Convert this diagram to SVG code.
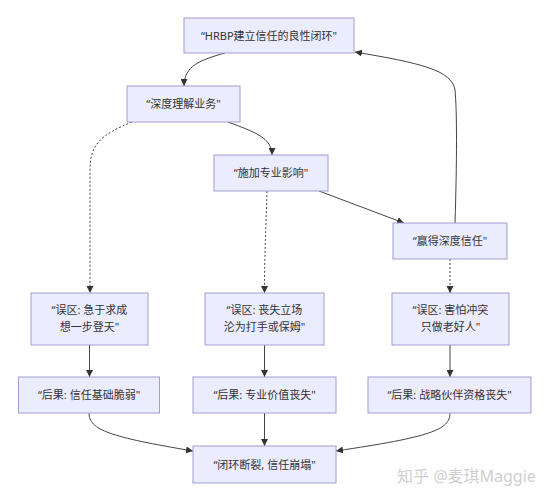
<svg xmlns="http://www.w3.org/2000/svg" width="550" height="500" viewBox="0 0 550 500">
<defs>
<style>
.node rect{fill:#ECECFF;stroke:#a49cd4;stroke-width:1}
.node text{font-family:"Noto Sans","Noto Sans CJK SC",sans-serif;font-size:11px;fill:#333;text-anchor:middle}
.edge{fill:none;stroke:#444;stroke-width:1}
.dot{stroke-dasharray:2 2}
.wm{font-family:"Noto Sans","Noto Sans CJK SC",sans-serif;font-size:16px;fill:#cfcfcf}
</style>
<marker id="arr" viewBox="0 0 10 10" refX="10" refY="5" markerWidth="7" markerHeight="7" markerUnits="userSpaceOnUse" orient="auto">
<path d="M0,0 L10,5 L0,10 z" fill="#333"/>
</marker>
</defs>
<rect width="550" height="500" fill="#fff"/>
<g id="connectors">
<path class="edge" d="M225,53 C200,60 184,66 184,86" marker-end="url(#arr)"/>
<path class="edge" d="M228,122 C255,132 272,138 272,155" marker-end="url(#arr)"/>
<path class="edge" d="M319,191 L404,223" marker-end="url(#arr)"/>
<path class="edge" d="M455,223 C457,160 457,110 455,90 C452,70 420,63 355,52" marker-end="url(#arr)"/>
<path class="edge dot" d="M132,122 C100,135 90,145 90,170 L90,293" marker-end="url(#arr)"/>
<path class="edge dot" d="M267,191 C266,230 264.5,250 264.5,293" marker-end="url(#arr)"/>
<path class="edge dot" d="M450,259 L450,293" marker-end="url(#arr)"/>
<path class="edge" d="M89.5,345 L89.5,377" marker-end="url(#arr)"/>
<path class="edge" d="M264.5,345 L264.5,377" marker-end="url(#arr)"/>
<path class="edge" d="M450,345 L450,377" marker-end="url(#arr)"/>
<path class="edge" d="M89,413 C89,430 110,437 193,451" marker-end="url(#arr)"/>
<path class="edge" d="M264.5,413 L264.5,446" marker-end="url(#arr)"/>
<path class="edge" d="M450,413 C450,430 430,437 336,451" marker-end="url(#arr)"/>
</g>
<g id="n1" class="node"><rect x="184" y="18" width="170" height="35"/><text x="269" y="39.5">“HRBP建立信任的良性闭环"</text></g>
<g id="n2" class="node"><rect x="127" y="86" width="113" height="36"/><text x="183.5" y="108">“深度理解业务"</text></g>
<g id="n3" class="node"><rect x="214" y="155" width="114" height="36"/><text x="271" y="177">“施加专业影响"</text></g>
<g id="n4" class="node"><rect x="393" y="223" width="114" height="36"/><text x="450" y="245">“赢得深度信任"</text></g>
<g id="m1" class="node"><rect x="31" y="293" width="117" height="52"/><text x="89.5" y="314">“误区: 急于求成</text><text x="89.5" y="331">想一步登天"</text></g>
<g id="m2" class="node"><rect x="205" y="293" width="119" height="52"/><text x="264.5" y="314">“误区: 丧失立场</text><text x="264.5" y="331">沦为打手或保姆"</text></g>
<g id="m3" class="node"><rect x="392" y="293" width="117" height="52"/><text x="450.5" y="314">“误区: 害怕冲突</text><text x="450.5" y="331">只做老好人"</text></g>
<g id="c1" class="node"><rect x="18.5" y="377" width="141" height="36"/><text x="89" y="399">“后果: 信任基础脆弱"</text></g>
<g id="c2" class="node"><rect x="193" y="377" width="143" height="36"/><text x="264.5" y="399">“后果: 专业价值丧失"</text></g>
<g id="c3" class="node"><rect x="368" y="377" width="163" height="36"/><text x="449.5" y="399">“后果: 战略伙伴资格丧失"</text></g>
<g id="f" class="node"><rect x="193" y="446" width="143" height="37"/><text x="264.5" y="468.5">“闭环断裂, 信任崩塌"</text></g>
<text class="wm" x="397" y="482">知乎 @麦琪Maggie</text>
</svg>
